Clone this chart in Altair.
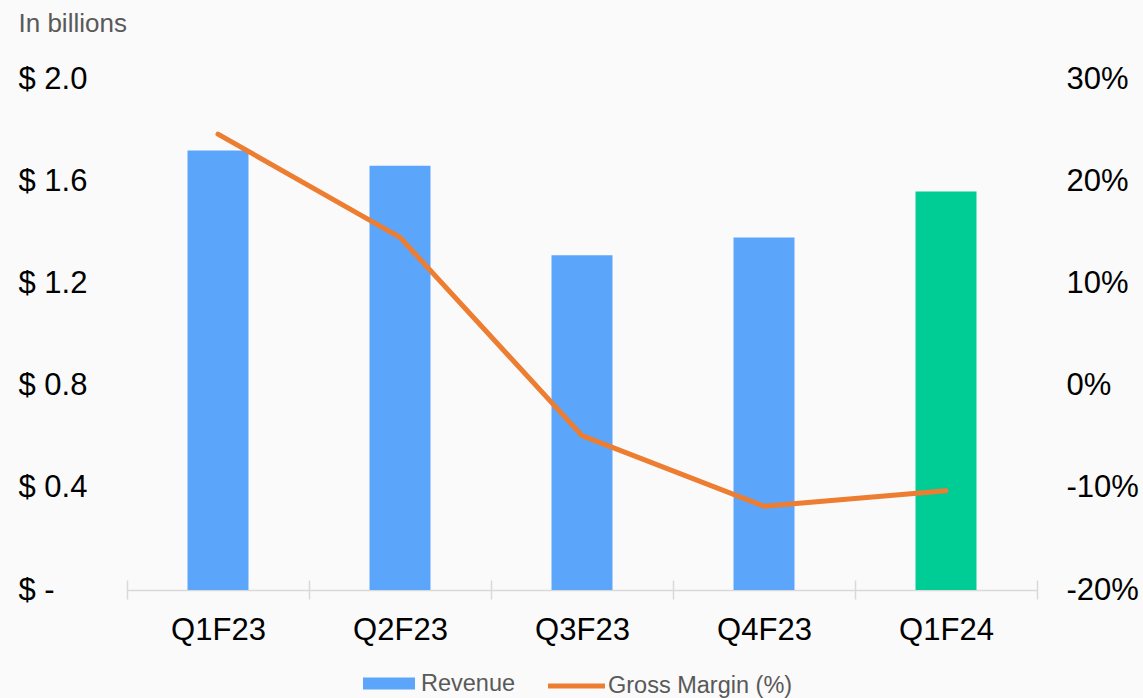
import altair as alt
import pandas as pd

# ---- data ----
quarters = ["Q1F23", "Q2F23", "Q3F23", "Q4F23", "Q1F24"]
revenue = [1.72, 1.66, 1.31, 1.38, 1.56]          # $ billions
gross_margin = [24.6, 14.5, -4.9, -11.8, -10.3]   # %
series_names = ["Revenue", "Gross Margin (%)"]
left_ticks = [0, 0.4, 0.8, 1.2, 1.6, 2.0]
right_ticks = [-20, -10, 0, 10, 20, 30]
highlight_quarter = "Q1F24"

df = pd.DataFrame({"quarter": quarters, "revenue": revenue, "margin": gross_margin})
df["rev_series"] = series_names[0]
df["gm_series"] = series_names[1]

FONT = "Liberation Sans"
BLUE = "#5BA5FA"
GREEN = "#00CC96"
ORANGE = "#ED7D31"
GRAY_TXT = "#595959"
AXIS_GRAY = "#D9D9D9"

legend_common = dict(
    orient="none",
    direction="horizontal",
    title=None,
    symbolSize=3249,
    labelFont=FONT,
    labelFontSize=23.5,
    labelColor=GRAY_TXT,
    labelLimit=600,
    symbolOpacity=1,
)

rev_legend = alt.Legend(
    legendX=233.5,
    legendY=576,
    symbolType="M-0.912,-0.21H0.912V0.21H-0.912Z",
    symbolStrokeWidth=0,
    labelOffset=3.5,
    **legend_common,
)

gm_legend = alt.Legend(
    legendX=418.5,
    legendY=576,
    symbolType="stroke",
    symbolStrokeWidth=5,
    labelOffset=0.5,
    **legend_common,
)

x_enc = alt.X(
    "quarter:N",
    sort=quarters,
    scale=alt.Scale(paddingInner=0, paddingOuter=0),
    axis=alt.Axis(
        title=None,
        domain=False,
        ticks=True,
        tickBand="extent",
        tickSize=19,
        offset=-10,
        tickColor=AXIS_GRAY,
        tickWidth=1.5,
        labelFont=FONT,
        labelFontSize=31,
        labelColor="#000000",
        labelPadding=16.5,
        labelAngle=0,
    ),
)

left_axis = alt.Axis(
    values=left_ticks,
    title="In billions",
    titleAngle=0,
    titleX=-109,
    titleY=-48,
    titleAlign="left",
    titleBaseline="alphabetic",
    titleFont=FONT,
    titleFontSize=26,
    titleFontWeight="normal",
    titleColor=GRAY_TXT,
    labelExpr="datum.value == 0 ? '$ -' : '$ ' + format(datum.value, '.1f')",
    labelAlign="left",
    labelBaseline="middle",
    labelPadding=109,
    labelFont=FONT,
    labelFontSize=31,
    labelColor="#000000",
    ticks=False,
    domain=False,
    grid=True,
    gridColor=alt.condition("datum.value == 0", alt.value(AXIS_GRAY), alt.value("transparent")),
    gridWidth=1.5,
)

right_axis = alt.Axis(
    values=right_ticks,
    title=None,
    orient="right",
    labelExpr="datum.value + '%'",
    labelAlign="left",
    labelBaseline="middle",
    labelPadding=29,
    labelFont=FONT,
    labelFontSize=31,
    labelColor="#000000",
    ticks=False,
    domain=False,
    grid=False,
)

bars = alt.Chart(df).mark_bar(width=alt.RelativeBandSize(0.335)).encode(
    x=x_enc,
    y=alt.Y("revenue:Q", scale=alt.Scale(domain=[0, 2.0], nice=False, zero=True), axis=left_axis),
    fill=alt.condition(
        alt.datum.quarter == highlight_quarter,
        alt.value(GREEN),
        alt.Fill("rev_series:N", scale=alt.Scale(domain=[series_names[0]], range=[BLUE]), legend=rev_legend),
    ),
)

line = alt.Chart(df).mark_line(strokeWidth=5, strokeCap="round", strokeJoin="round").encode(
    x=x_enc,
    y=alt.Y("margin:Q", scale=alt.Scale(domain=[-20, 30], nice=False, zero=False), axis=right_axis),
    stroke=alt.Stroke("gm_series:N", scale=alt.Scale(domain=[series_names[1]], range=[ORANGE]), legend=gm_legend),
)

chart = (
    alt.layer(bars, line)
    .resolve_scale(y="independent")
    .properties(
        width=910,
        height=511,
        padding={"left": 127, "top": 79, "right": 106, "bottom": 108},
        autosize=alt.AutoSizeParams(type="none"),
        background="#FAFAFA",
    )
    .configure_view(stroke=None)
)

chart.save("out.html", embed_options={"renderer": "svg", "actions": False})
